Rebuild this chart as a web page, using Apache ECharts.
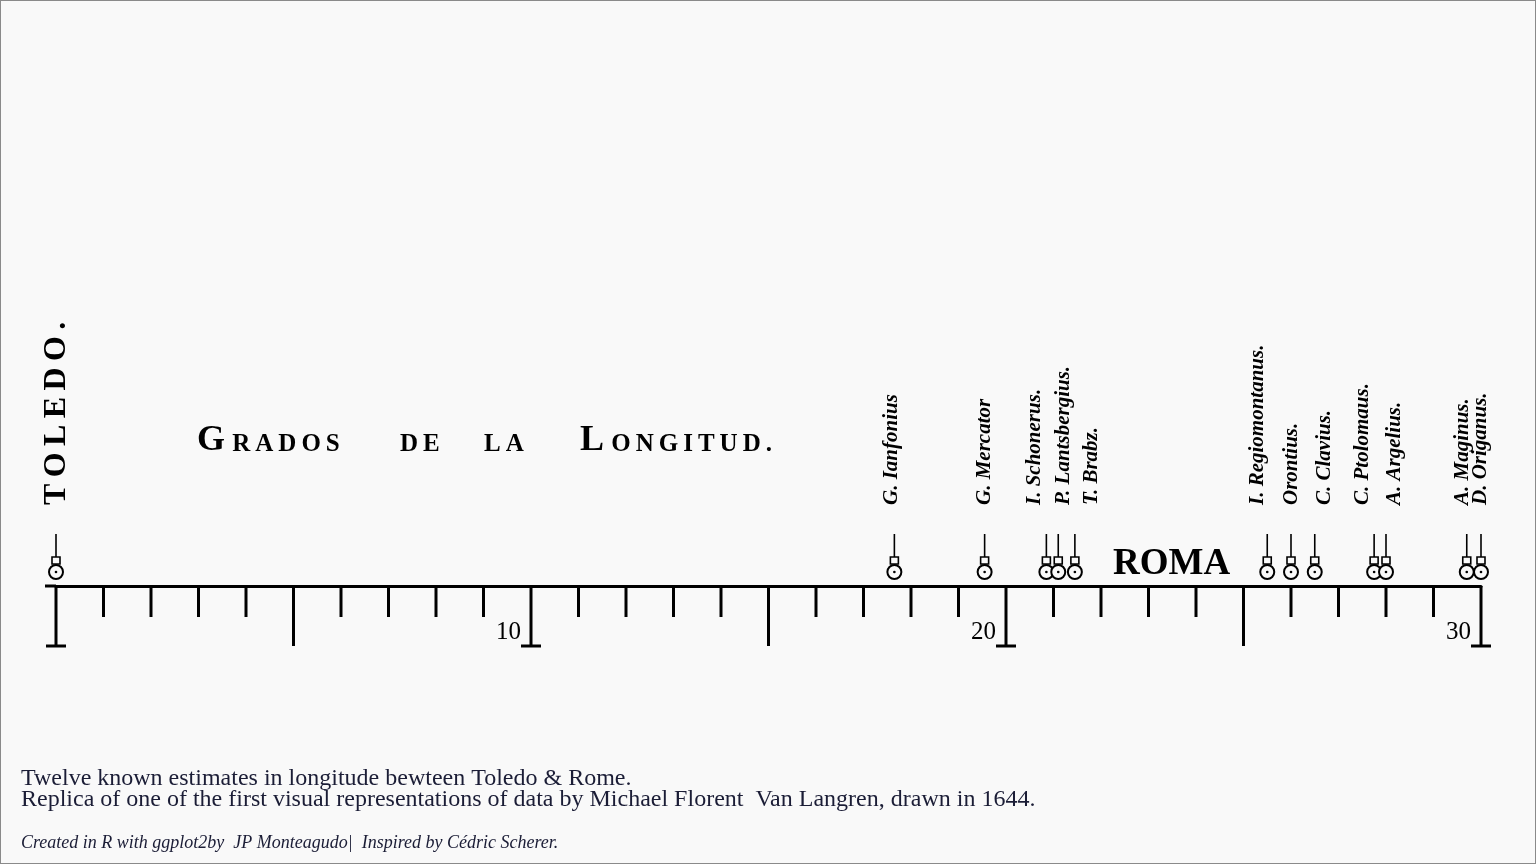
<!DOCTYPE html>
<html>
<head>
<meta charset="utf-8">
<script src="https://cdn.jsdelivr.net/npm/echarts@6/dist/echarts.min.js"></script>
<style>
html,body{margin:0;padding:0;background:#f9f9f9;}
#chart{width:1536px;height:864px;}
#frame{position:absolute;left:0;top:0;width:1534px;height:862px;border:1px solid #8a8a8a;pointer-events:none;}
</style>
</head>
<body>
<div id="chart"></div>
<div id="frame"></div>
<script>
// ---- data ----
const places = ['TOLEDO.', 'G. Ianfonius', 'G. Mercator', 'I. Schonerus.', 'P. Lantsbergius.', 'T. Brabz.',
  'I. Regiomontanus.', 'Orontius.', 'C. Clavius.', 'C. Ptolomaus.', 'A. Argelius.', 'A. Maginus.', 'D. Origanus.'];
const longitudes = [0, 17.65, 19.55, 20.85, 21.1, 21.45, 25.5, 26.0, 26.5, 27.75, 28.0, 29.7, 30.0];
const tickValues = [0,1,2,3,4,5,6,7,8,9,10,11,12,13,14,15,16,17,18,19,20,21,22,23,24,25,26,27,28,29,30];
const tickLabels = ['', '10', '20', '30'];
const titleWords = ['Grados', 'de', 'la', 'Longitud.'];
const captionLines = ['Twelve known estimates in longitude bewteen Toledo & Rome.',
  'Replica of one of the first visual representations of data by Michael Florent  Van Langren, drawn in 1644.'];
const footer = 'Created in R with ggplot2by  JP Monteagudo|  Inspired by Cédric Scherer.';

// ---- layout (pixel nudges of the name labels, repelled like the original) ----
const labelNudge = [1, -3, 0, -12, 5, 17, -10, 1, 10, -12, 9, -4, 0];
const titleX = [197, 400, 484, 580];

const chart = echarts.init(document.getElementById('chart'), null, {renderer: 'canvas'});

const TS = '\u2009';
function spaced(s) { return s.split('').join(TS); }
function smallCaps(word) {
  const first = word.charAt(0);
  if (/[A-Z]/.test(first)) return '{cap|' + first + TS + '}{sc|' + spaced(word.slice(1).toUpperCase()) + '}';
  return '{cap|\u200B}{sc|' + spaced(word.toUpperCase()) + '}';
}

const titleGraphics = titleWords.map((w, i) => ({
  type: 'text', left: titleX[i], top: 423,
  style: {
    text: smallCaps(w),
    rich: {
      cap: {fontFamily: 'Liberation Serif', fontWeight: 'bold', fontSize: 36, fill: '#000', lineHeight: 40, verticalAlign: 'bottom'},
      sc: {fontFamily: 'Liberation Serif', fontWeight: 'bold', fontSize: 25, fill: '#000', lineHeight: 40, verticalAlign: 'bottom', padding: [0, 0, 2, 0]}
    }
  }
}));

const option = {
  backgroundColor: '#f9f9f9',
  animation: false,
  grid: {left: 56, right: 55, top: 100, bottom: 278},
  xAxis: {
    type: 'value', min: 0, max: 30, interval: 10,
    axisLine: {show: true, lineStyle: {color: '#000', width: 3}},
    axisTick: {show: false}, splitLine: {show: false},
    axisLabel: {
      formatter: v => tickLabels[Math.round(v / 10)] || '',
      align: 'right', padding: [0, 10, 0, 0], margin: 34,
      fontFamily: 'Liberation Serif', fontSize: 25, color: '#000'
    }
  },
  yAxis: {type: 'value', min: 0, max: 1, show: false},
  series: [
    {
      type: 'custom', silent: true, clip: false,
      data: tickValues.map(v => [v]),
      renderItem: function (params, api) {
        const v = api.value(0);
        const p = api.coord([v, 0]);
        const x = p[0], y = p[1];
        const major = Math.round(v) % 5 === 0;
        const ten = Math.round(v) % 10 === 0;
        const len = major ? 60 : 31;
        const children = [{
          type: 'line', shape: {x1: x, y1: y, x2: x, y2: y + len},
          style: {stroke: '#000', lineWidth: 3}
        }];
        if (ten) {
          children.push({type: 'line', shape: {x1: x - 10, y1: y + len, x2: x + 10, y2: y + len},
            style: {stroke: '#000', lineWidth: 3}});
        }
        if (v === 0) {
          children.push({type: 'line', shape: {x1: x - 11, y1: y, x2: x, y2: y},
            style: {stroke: '#000', lineWidth: 3}});
        }
        return {type: 'group', children: children};
      }
    },
    {
      type: 'custom', silent: true, clip: false,
      data: longitudes.map((v, i) => [v, i]),
      renderItem: function (params, api) {
        const v = api.value(0);
        const idx = api.value(1);
        const p = api.coord([v, 0]);
        const x = p[0], y = p[1];
        const children = [
          {type: 'line', shape: {x1: x, y1: y - 52, x2: x, y2: y - 29}, style: {stroke: '#000', lineWidth: 1.6}},
          {type: 'rect', shape: {x: x - 4, y: y - 29, width: 8, height: 7}, style: {stroke: '#000', lineWidth: 1.6, fill: '#f9f9f9'}},
          {type: 'circle', shape: {cx: x, cy: y - 14, r: 7}, style: {stroke: '#000', lineWidth: 2, fill: '#f9f9f9'}},
          {type: 'circle', shape: {cx: x, cy: y - 14, r: 1.3}, style: {fill: '#000'}}
        ];
        const isToledo = idx === 0;
        let label = places[idx];
        if (isToledo) label = spaced(label);
        children.push({
          type: 'text', x: x + labelNudge[idx], y: y - 81, rotation: Math.PI / 2,
          style: isToledo ? {
            text: label, align: 'left', verticalAlign: 'middle', fill: '#000',
            fontFamily: 'Liberation Serif', fontWeight: 'bold', fontSize: 32
          } : {
            text: label, align: 'left', verticalAlign: 'middle', fill: '#000',
            fontFamily: 'Liberation Serif', fontWeight: 'bold', fontStyle: 'italic', fontSize: 21
          }
        });
        return {type: 'group', children: children};
      }
    }
  ],
  graphic: titleGraphics.concat([
    {type: 'text', left: 1113, top: 546,
      style: {text: 'ROMA', fontFamily: 'Liberation Serif', fontWeight: 'bold', fontSize: 37, fill: '#000'}},
    {type: 'text', left: 21, top: 767,
      style: {text: captionLines.join('\n'), fontFamily: 'Liberation Serif', fontSize: 24, fill: '#1b1d36', lineHeight: 21}},
    {type: 'text', left: 21, top: 834,
      style: {text: footer, fontFamily: 'Liberation Serif', fontStyle: 'italic', fontSize: 18, fill: '#1b1d36'}}
  ])
};
chart.setOption(option);
</script>
</body>
</html>
